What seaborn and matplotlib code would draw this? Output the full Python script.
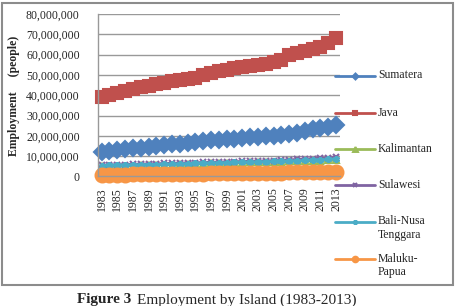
import matplotlib
matplotlib.use("Agg")
import matplotlib.pyplot as plt
import seaborn as sns
import pandas as pd
from matplotlib.lines import Line2D
from matplotlib.patches import Rectangle

years = list(range(1983, 2014))
sumatera = [12.0, 12.4, 12.9, 13.3, 13.8, 14.2, 14.7, 15.1, 15.5, 15.9, 16.2, 16.6, 17.0, 17.4, 17.8, 18.1,
            18.4, 18.7, 19.0, 19.3, 19.5, 19.8, 20.0, 20.3, 20.7, 21.3, 22.3, 23.3, 24.0, 24.5, 25.5]
java = [39.0, 40.0, 41.2, 42.3, 43.2, 44.0, 44.8, 45.6, 46.2, 46.8, 47.3, 47.8, 48.5, 50.2, 51.0, 51.8,
        52.6, 53.3, 53.8, 54.3, 54.7, 55.4, 56.2, 57.5, 59.8, 61.0, 62.0, 63.0, 64.0, 65.5, 68.0]
kalimantan = [5.0, 5.1, 5.2, 5.3, 5.4, 5.5, 5.6, 5.7, 5.8, 5.9, 6.0, 6.1, 6.2, 6.3, 6.4, 6.5,
              6.6, 6.7, 6.8, 6.9, 7.0, 7.1, 7.2, 7.3, 7.4, 7.5, 7.6, 7.7, 7.8, 7.9, 8.0]
sulawesi = [5.6, 5.7, 5.8, 5.9, 6.0, 6.1, 6.2, 6.3, 6.4, 6.5, 6.6, 6.7, 6.8, 6.9, 7.0, 7.1,
            7.2, 7.3, 7.4, 7.5, 7.6, 7.7, 7.8, 8.0, 8.2, 8.4, 8.6, 8.8, 9.0, 9.2, 9.5]
bali = [5.4, 5.5, 5.6, 5.6, 5.7, 5.8, 5.9, 5.9, 6.0, 6.1, 6.2, 6.3, 6.4, 6.5, 6.6, 6.7,
        6.8, 6.9, 7.0, 7.1, 7.2, 7.3, 7.4, 7.5, 7.6, 7.7, 7.9, 8.1, 8.2, 8.4, 8.6]
maluku = [0.8, 0.85, 0.9, 0.95, 1.0, 1.05, 1.1, 1.15, 1.2, 1.25, 1.3, 1.35, 1.4, 1.45, 1.5, 1.55,
          1.6, 1.65, 1.7, 1.75, 1.8, 1.85, 1.9, 1.95, 2.0, 2.05, 2.1, 2.15, 2.2, 2.3, 2.4]

series_names = ["Sumatera", "Java", "Kalimantan", "Sulawesi", "Bali-Nusa\nTenggara", "Maluku-\nPapua"]
series_vals = [sumatera, java, kalimantan, sulawesi, bali, maluku]
colors = ["#4F81BD", "#C0504D", "#9BBB59", "#8064A2", "#4BACC6", "#F79646"]
markers = ["D", "s", "^", "x", (6, 2, 0), "o"]
msizes = [8, 9, 5, 5, 5, 10]
leg_ms = [3, 3.5, 3.5, 3.5, 3.5, 4]

sns.set_style("white")
plt.rcParams["font.family"] = ["Liberation Serif", "DejaVu Serif"]

W, H = 457, 306
fig = plt.figure(figsize=(W / 100, H / 100), dpi=100)
ax = fig.add_axes([97.7 / W, 1 - 176.5 / H, (340 - 97.7) / W, (176.5 - 14) / H])

for name, vals, c, m, ms in zip(series_names, series_vals, colors, markers, msizes):
    df = pd.DataFrame({"year": years, "value": [v * 1e6 for v in vals]})
    sns.lineplot(data=df, x="year", y="value", ax=ax, color=c, marker=m, markersize=ms,
                 markeredgecolor=c, markeredgewidth=1.5, linewidth=2, clip_on=False)

ax.set_xlim(1982.5, 2013.5)
ax.set_ylim(0, 80e6)
ax.set_yticks([i * 10e6 for i in range(9)])
ax.set_yticklabels(["0"] + [f"{i*10:,}" + ",000,000" for i in range(1, 9)], fontsize=8.5)
ax.set_xticks(years[::2])
ax.set_xticklabels([str(y) for y in years[::2]], rotation=90, fontsize=8.5)
ax.tick_params(axis="y", length=0, pad=13)
ax.tick_params(axis="x", length=0, pad=8)
ax.grid(axis="y", color="#999999", linewidth=1)
ax.set_axisbelow(True)
for s in ["top", "right"]:
    ax.spines[s].set_visible(False)
for s in ["left", "bottom"]:
    ax.spines[s].set_color("#999999")
    ax.spines[s].set_linewidth(1)
ax.set_xlabel("")
ax.set_ylabel("")
if ax.get_legend():
    ax.get_legend().remove()

fig.text(14 / W, 1 - 96 / H, "Employment     (people)", rotation=90, fontsize=8.5,
         fontweight="bold", ha="center", va="center")

# legend
leg_y = [76, 113, 149, 185, 222, 259]
for name, c, m, lms, yy in zip(series_names, colors, markers, leg_ms, leg_y):
    yf = 1 - yy / H
    fig.add_artist(Line2D([335 / W, 375 / W], [yf, yf], color=c, linewidth=2))
    fig.add_artist(Line2D([355 / W], [yf], color=c, marker=m, markersize=lms,
                          markeredgecolor=c, markeredgewidth=1.5, linestyle="none"))
    fig.text(378 / W, yf + 6.5 / H, name, fontsize=8.5, ha="left", va="top", linespacing=1.15)

fig.add_artist(Rectangle((2 / W, 1 - 285 / H), 451 / W, 282 / H, transform=fig.transFigure,
                         fill=False, edgecolor="#8c8c8c", linewidth=1.5))

fig.text(77 / W, 1 - 300 / H, "Figure 3", fontsize=11, fontweight="bold", ha="left", va="center")
fig.text(137 / W, 1 - 300 / H, "Employment by Island (1983-2013)", fontsize=11, ha="left", va="center")

fig.savefig("out.png", dpi=100)
